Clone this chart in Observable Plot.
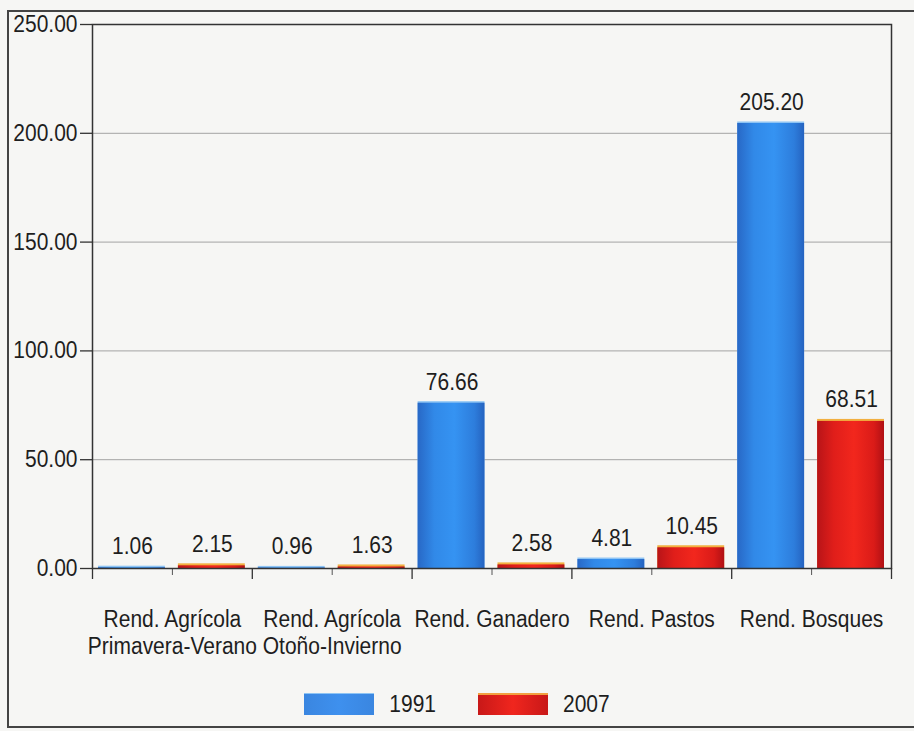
<!DOCTYPE html>
<html>
<head>
<meta charset="utf-8">
<script src="https://cdn.jsdelivr.net/npm/d3@7"></script>
<script src="https://cdn.jsdelivr.net/npm/@observablehq/plot@0.6"></script>
<style>
  html, body { margin: 0; padding: 0; }
  body { width: 914px; height: 731px; overflow: hidden; position: relative; background: #f6f6f4; color: #222; font-family: "Liberation Sans", Arial, sans-serif; }
  #frame { position: absolute; left: 7px; top: 10px; width: 930px; height: 718px; border: 2px solid #444; box-sizing: border-box; }
  #chart { position: absolute; left: 0; top: 0; }
  #legend { position: absolute; left: 0; top: 692px; width: 914px; display: flex; justify-content: center; align-items: center; font-size: 21px; color: #1e1e1e; }
  #legend span { display: inline-block; transform: scaleY(1.1); }
  .item { display: flex; align-items: center; margin: 0 21px; }
  .sw { width: 70px; height: 22px; margin-right: 15px; }
</style>
</head>
<body>
<div id="frame"></div>
<div id="chart"></div>
<div id="legend"></div>
<script>
const categories = ["Rend. Agrícola\nPrimavera-Verano", "Rend. Agrícola\nOtoño-Invierno", "Rend. Ganadero", "Rend. Pastos", "Rend. Bosques"];
const series = ["1991", "2007"];
const values1991 = [1.06, 0.96, 76.66, 4.81, 205.20];
const values2007 = [2.15, 1.63, 2.58, 10.45, 68.51];
const yTicks = [0, 50, 100, 150, 200, 250];

const FONT = "'Liberation Sans', Arial, sans-serif";
const FS = 21;
const STRETCH = 1.1;

const seriesValues = [values1991, values2007];
const data = [];
categories.forEach((c, i) => {
  series.forEach((s, k) => {
    data.push({cat: c, i, k, year: s, value: seriesValues[k][i], x1: 2 * i + k, x2: 2 * i + k + 1});
  });
});
const blue = data.filter(d => d.k === 0);
const red = data.filter(d => d.k === 1);
const fmt = d3.format(".2f");

const chart = Plot.plot({
  width: 914,
  height: 680,
  marginLeft: 92,
  marginRight: 23,
  marginTop: 24,
  marginBottom: 112,
  style: {fontFamily: FONT, fontSize: FS + "px", color: "#222", background: "transparent", overflow: "visible"},
  x: {domain: [0, 2 * categories.length], axis: null},
  y: {domain: [0, 250], axis: null},
  marks: [
    Plot.gridY([50, 100, 150, 200], {stroke: "#9a9a9a", strokeOpacity: 1, strokeWidth: 0.9}),
    Plot.rectY(blue, {x1: "x1", x2: "x2", y: "value", fill: "#8ec4f4", insetLeft: 6, insetRight: 7}),
    Plot.rectY(blue, {x1: "x1", x2: "x2", y: "value", fill: "url(#gBlue)", insetLeft: 6, insetRight: 7, insetTop: 1.5}),
    Plot.rectY(red, {x1: "x1", x2: "x2", y: "value", fill: "#f2b040", insetLeft: 6, insetRight: 7}),
    Plot.rectY(red, {x1: "x1", x2: "x2", y: "value", fill: "url(#gRed)", insetLeft: 6, insetRight: 7, insetTop: 2}),
    Plot.text(data, {x: d => (d.x1 + d.x2) / 2, y: "value", text: d => fmt(d.value), lineAnchor: "bottom", dy: -12, fill: "#1e1e1e", fontSize: FS}),
    Plot.axisY({ticks: yTicks, tickFormat: fmt, tickSize: 12, tickPadding: 3, fontSize: FS, label: null, stroke: "#333", strokeWidth: 1.3, fill: "#1e1e1e"}),
    Plot.axisX({ticks: d3.range(0, 2 * categories.length + 1, 2), tickSize: 11, tickFormat: () => "", label: null, stroke: "#333", strokeWidth: 1.3}),
    Plot.axisX({ticks: categories.map((c, i) => 2 * i + 1), tickSize: 7, tickPadding: 33, lineHeight: 1.27 / STRETCH, tickFormat: t => categories[(t - 1) / 2], fontSize: FS, label: null, stroke: "#555", strokeWidth: 1, fill: "#1e1e1e"}),
    Plot.frame({stroke: "#333", strokeWidth: 1.5})
  ]
});

// Slight vertical stretch of the text to mimic the condensed Helvetica of the original
chart.querySelectorAll("text").forEach(el => {
  const t = el.getAttribute("transform");
  if (t) {
    el.setAttribute("transform", t + ` scale(1,${STRETCH})`);
  } else {
    const y = +(el.getAttribute("y") || 0);
    el.setAttribute("transform", `translate(0,${y}) scale(1,${STRETCH}) translate(0,${-y})`);
  }
});

const svg = d3.select(chart);
const defs = svg.insert("defs", ":first-child");
const gb = defs.append("linearGradient").attr("id", "gBlue").attr("x1", "0").attr("x2", "1").attr("y1", "0").attr("y2", "0");
[["0%", "#2868c6"], ["25%", "#3189e8"], ["55%", "#3593f2"], ["85%", "#2d7ddc"], ["100%", "#2563c0"]].forEach(([o, c]) => gb.append("stop").attr("offset", o).attr("stop-color", c));
const gr = defs.append("linearGradient").attr("id", "gRed").attr("x1", "0").attr("x2", "1").attr("y1", "0").attr("y2", "0");
[["0%", "#b81418"], ["25%", "#e01e1a"], ["55%", "#f2271d"], ["85%", "#da1b18"], ["100%", "#b01014"]].forEach(([o, c]) => gr.append("stop").attr("offset", o).attr("stop-color", c));

document.getElementById("chart").appendChild(chart);

const legend = d3.select("#legend");
const legendGrads = [["#3a86e0", "#3e90ee", "#3a86e0"], ["#c81818", "#f0261e", "#c81818"]];
series.forEach((s, k) => {
  const item = legend.append("div").attr("class", "item");
  item.append("div").attr("class", "sw")
    .style("background", `linear-gradient(to right, ${legendGrads[k][0]}, ${legendGrads[k][1]} 50%, ${legendGrads[k][2]})`)
    .style("box-shadow", k === 1 ? "inset 0 2px 0 #f2a040" : "inset 0 1px 0 #8ec4f4");
  item.append("span").text(s);
});
</script>
</body>
</html>
